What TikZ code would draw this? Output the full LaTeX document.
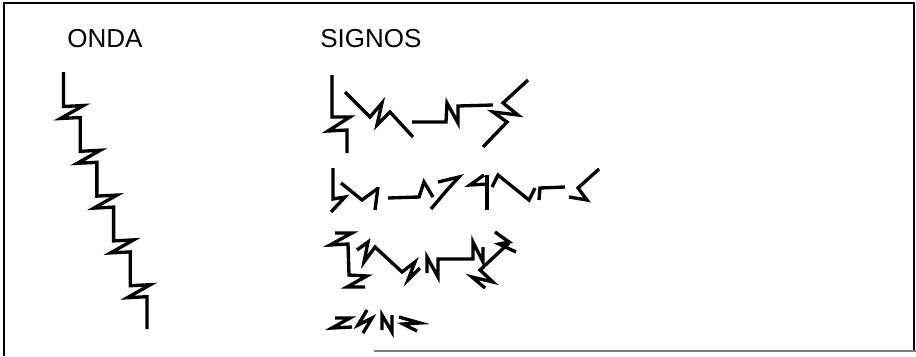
\documentclass[tikz,border=0pt]{standalone}
\usepackage{fontspec}
\setmainfont{Liberation Sans}
\usepackage{tikz}

\tikzset{
  trazo/.style={line width=1.9pt},
  marco/.style={line width=1pt},
  titulo/.style={anchor=base west, inner sep=0pt, font=\fontsize{14.8}{18}\selectfont}
}

\begin{document}
\begin{tikzpicture}[x=0.02cm, y=-0.02cm]
    \useasboundingbox (0,0) rectangle (916,356);

    % 边框
    \draw[marco] (4,356) -- (4,3) -- (914,3) -- (914,352);
    \draw[marco, gray] (374,351) -- (916,351);

    % 标题
    \node[titulo] (onda) at (67,47) {ONDA};
    \node[titulo] (signos) at (320,47) {SIGNOS};

    % 波形
    \draw[trazo] (63.5,72)
        \foreach \i in {0,...,4} {
            -- ({63.5+16.7*\i},{106.5+44.8*\i}) -- ++(20,-1) -- ++(-23,13) -- ++(19.7,-1)
        } -- (147,329);

    % 第一行
    \draw[trazo] (332,75) -- (332,117) -- (350,117) -- (328,131) -- (347,130) -- (347,153);
    \draw[trazo] (345,92) -- (370,117) -- (382,103) -- (377,125) -- (390,112) -- (413,137);
    \draw[trazo] (412,122) -- (446,122) -- (447,103) -- (458,123) -- (458,106) -- (493,105);
    \draw[trazo] (528,80) -- (503,103) -- (518,115) -- (493,112) -- (507,122) -- (483,147);

    % 第二行
    \draw[trazo] (333,168) -- (333,199) -- (345,197) -- (331,212);
    \draw[trazo] (341,183) -- (362,200) -- (377,189);
    \draw[trazo] (378,187) -- (375,210);
    \draw[trazo] (388,198) -- (419,197) -- (424,182) -- (433,197);
    \draw[trazo] (438,182) -- (459,177) -- (447,190) -- (431,209);
    \draw[trazo] (484,175) -- (470,185) -- (488,184);
    \draw[trazo] (487,175) -- (487,210);
    \draw[trazo] (492,187) -- (498,175) -- (529,200) -- (535,188);
    \draw[trazo] (539,200) -- (540,188) -- (565,187);
    \draw[trazo] (599,169) -- (578,188) -- (587,200) -- (569,197);

    % 第三行
    \draw[trazo] (335,233) -- (352,233) -- (330,245) -- (348,244) -- (349,275) -- (367,276) -- (347,287) -- (365,287);
    \draw[trazo] (357,250) -- (368,242) -- (364,262) -- (375,247) -- (402,272) -- (415,262) -- (408,280) -- (420,268);
    \draw[trazo] (427,273) -- (427,257) -- (438,277) -- (438,259) -- (473,259) -- (473,242) -- (483,262) -- (483,247);
    \draw[trazo] (495,232) -- (509,242) -- (499,244) -- (516,252);
    \draw[trazo] (509,243) -- (480,270) -- (493,282) -- (472,277) -- (485,288);

    % 第四行
    \draw[trazo] (335,318) -- (350,318) -- (332,328) -- (352,327);
    \draw[trazo] (367,310) -- (358,325) -- (372,318) -- (363,333);
    \draw[trazo] (382,330) -- (382,315) -- (392,332) -- (392,315);
    \draw[trazo] (399,317) -- (420,323) -- (403,324) -- (417,331);
\end{tikzpicture}
\end{document}
